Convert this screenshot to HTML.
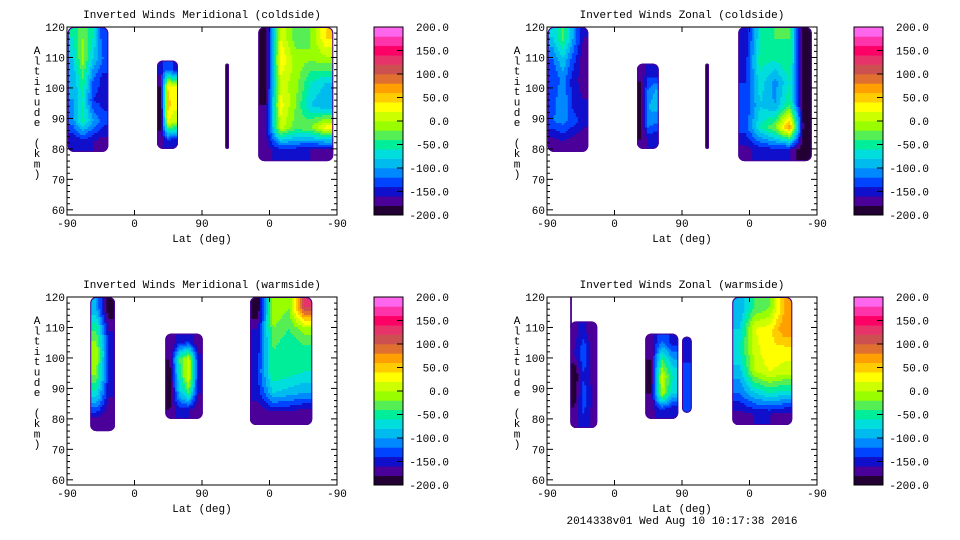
<!DOCTYPE html>
<html><head><meta charset="utf-8"><style>
body{margin:0;background:#fff;}
svg{display:block;font-family:"Liberation Mono","DejaVu Sans Mono",monospace;}
</style></head><body>
<svg id="c" width="960" height="540" xmlns="http://www.w3.org/2000/svg">
</svg>
<script>
// colour bands bottom (-200) to top (200), 20 bands
const bandColors=["#220033","#4a0099","#1010cc","#0044ff","#0088ff","#00bbee","#00dddd","#00ee99","#55ee55","#99ff00","#ccff00","#ffff00","#ffcc00","#ffa000","#e07030","#cc5050","#e6336a","#ff0066","#ff33aa","#ff66ee"];
const cbTicks=[-200,-150,-100,-50,0,50,100,150,200];
const xTickVals=[0,90,180,270,360];
const xTickLabels=["-90","0","90","0","-90"];
const yTickVals=[60,70,80,90,100,110,120];
const titles=["Inverted Winds Meridional (coldside)","Inverted Winds Zonal (coldside)","Inverted Winds Meridional (warmside)","Inverted Winds Zonal (warmside)"];
// regions: [u0,u1,alt0,alt1] and value grids (rows top->bottom)
const p1Bounds=[[1,55,79,120],[120,148,80,109],[211,216,80,108],[255,355,76,120]];
const p1Grids=[
[[-60,-20,-60,-140],[-80,-10,-80,-120],[-100,-40,-120,-150],[-100,-60,-140,-150],[-110,-50,-100,-130],[-160,-150,-160,-170]],
[[-150,-120,-150],[-180,40,20],[-190,50,30],[-190,20,0],[-170,-140,-150]],
[[-200]],
[[-200,20,-30,-20,40],[-200,40,-10,-20,-10],[-190,10,-10,-60,-80],[-180,30,-20,-80,-100],[-170,10,-30,-20,30],[-170,-150,-150,-160,-170]]];
const p2Bounds=[[1,55,79,120],[120,149,80,108],[211,216,80,108],[255,353,76,120]];
const p2Grids=[
[[-80,-30,-100,-160],[-120,-80,-130,-170],[-140,-110,-150,-170],[-130,-100,-150,-160],[-120,-110,-130,-150],[-170,-160,-170,-180]],
[[-170,-150,-160],[-190,-120,-100],[-190,-100,-90],[-190,-110,-120],[-180,-160,-160]],
[[-200]],
[[-160,-60,-40,-40,-200],[-150,-50,-60,-40,-200],[-140,-70,-110,-60,-200],[-140,-80,-100,-40,-200],[-130,-60,-20,80,-200],[-170,-150,-150,-160,-200]]];
const p3Bounds=[[31,64,76,120],[131,181,80,108],[244,327,78,120]];
const p3Grids=[
[[-100,-200],[-40,-160],[0,-140],[-20,-150],[-80,-160],[-170,-180]],
[[-180,-150,-140,-180],[-180,-40,10,-150],[-190,-60,20,-150],[-190,-90,-40,-160],[-180,-150,-160,-180]],
[[-200,0,-20,120],[-160,-20,-40,-10],[-150,-40,-60,-50],[-140,-40,-50,-60],[-150,-80,-90,-100],[-180,-170,-170,-180]]];
const p4Bounds=[[31,67,77,112],[131,175,80,108],[180,193,82,107],[247,327,78,120],[31,33,110,120]];
const p4Grids=[
[[-170,-150,-180],[-160,-120,-170],[-200,-140,-170],[-190,-130,-160],[-170,-140,-170]],
[[-170,-120,-150],[-180,-40,-100],[-190,10,-60],[-180,0,-80],[-170,-150,-160]],
[[-160],[-120],[-130]],
[[-100,-40,-20,60],[-80,20,30,80],[-60,10,40,30],[-90,0,20,10],[-120,-80,-60,-70],[-170,-160,-160,-170]],
[[-200]]];
const panels=[{x:67,y:27,b:p1Bounds,g:p1Grids},{x:547,y:27,b:p2Bounds,g:p2Grids},{x:67,y:297,b:p3Bounds,g:p3Grids},{x:547,y:297,b:p4Bounds,g:p4Grids}];
const W=270,H=188,AMIN=58.3,AMAX=120,STEP=2;
const NS="http://www.w3.org/2000/svg";
const svg=document.getElementById('c');
function mk(t,a,p){const e=document.createElementNS(NS,t);for(const k in a)e.setAttribute(k,a[k]);(p||svg).appendChild(e);return e;}
function col(v){let i=Math.floor((v+200)/20);i=Math.max(0,Math.min(19,i));return bandColors[i];}
function sample(grid,gx,gy){
  const nr=grid.length,nc=grid[0].length;
  gx=Math.max(0,Math.min(nc-1,gx));gy=Math.max(0,Math.min(nr-1,gy));
  const c0=Math.floor(gx),r0=Math.floor(gy),c1=Math.min(nc-1,c0+1),r1=Math.min(nr-1,r0+1),fx=gx-c0,fy=gy-r0;
  const a=grid[r0][c0]*(1-fx)+grid[r0][c1]*fx,b=grid[r1][c0]*(1-fx)+grid[r1][c1]*fx;
  return a*(1-fy)+b*fy;
}
panels.forEach((P,pi)=>{
  const xs=u=>P.x+u*W/360, ys=a=>P.y+(AMAX-a)/(AMAX-AMIN)*H;
  const g=mk('g',{});
  
  
  const t=mk('text',{x:P.x+W/2,y:P.y-9,'text-anchor':'middle','font-size':11},g);t.textContent=titles[pi];
  
  P.b.forEach((bd,ri)=>{
    const x0=xs(bd[0]),x1=xs(bd[1]),y0=ys(bd[3]),y1=ys(bd[2]);
    const cid='cp'+pi+'_'+ri;
    const cp=mk('clipPath',{id:cid},g);mk('rect',{x:x0,y:y0,width:x1-x0,height:y1-y0,rx:Math.min(6,(x1-x0)/2)},cp);
    const rg=mk('g',{'clip-path':'url(#'+cid+')'},g);
    
    mk('rect',{x:x0,y:y0,width:x1-x0,height:y1-y0,fill:'#220033'},rg);
    const grid=P.g[ri],nr=grid.length,nc=grid[0].length,cw=(x1-x0)/nc,ch=(y1-y0)/nr;
    for(let py=y0;py<y1;py+=STEP){
      const gy=(py+STEP/2-y0)/ch-0.5;
      let runStart=x0,runCol=null;
      for(let px=x0;px<=x1;px+=STEP){
        const c=px<x1?col(sample(grid,(px+STEP/2-x0)/cw-0.5,gy)):null;
        if(c!==runCol){
          if(runCol!==null){mk('rect',{x:runStart,y:py,width:px-runStart+0.4,height:STEP+0.4,fill:runCol},rg);}
          runStart=px;runCol=c;
        }
      }
      if(runCol!==null)mk('rect',{x:runStart,y:py,width:x1-runStart+0.4,height:STEP+0.4,fill:runCol},rg);
    }
    mk('rect',{x:x0,y:y0,width:x1-x0,height:y1-y0,rx:Math.min(6,(x1-x0)/2),fill:'none',stroke:'#4a0099','stroke-width':2},rg);
  });
  mk('rect',{x:P.x,y:P.y,width:W,height:H,fill:'none',stroke:'#000','stroke-width':1},g);
  xTickVals.forEach((u,i)=>{const x=xs(u);mk('line',{x1:x,x2:x,y1:P.y+H,y2:P.y+H-5,stroke:'#000'},g);mk('line',{x1:x,x2:x,y1:P.y,y2:P.y+5,stroke:'#000'},g);
    const l=mk('text',{x:x,y:P.y+H+12,'text-anchor':'middle','font-size':11},g);l.textContent=xTickLabels[i];
    });
  for(let a=60;a<=120;a+=2){const y=ys(a),len=a%10==0?6:3;mk('line',{x1:P.x,x2:P.x+len,y1:y,y2:y,stroke:'#000'},g);mk('line',{x1:P.x+W,x2:P.x+W-len,y1:y,y2:y,stroke:'#000'},g);}
  yTickVals.forEach(a=>{const l=mk('text',{x:P.x-2,y:ys(a)+4,'text-anchor':'end','font-size':11},g);l.textContent=a;
    });
  const xl=mk('text',{x:P.x+W/2,y:P.y+H+27,'text-anchor':'middle','font-size':11},g);xl.textContent='Lat (deg)';
  
  const yl=mk('text',{x:P.x-30,'text-anchor':'middle','font-size':11},g);
  
  'Altitude (km)'.split('').forEach((ch,i)=>{const ts=mk('tspan',{x:P.x-30,y:P.y+27+i*10.3},yl);ts.textContent=ch;});
  // colorbar
  const cx=P.x+307,cwid=29;
  const cb=mk('g',{},g);
  const cy=v=>P.y+H-(v+200)/400*H;
  bandColors.forEach((c,i)=>mk('rect',{x:cx,y:cy(-200+(i+1)*20),width:cwid,height:H/20+0.3,fill:c},cb));
  mk('rect',{x:cx,y:P.y,width:cwid,height:H,fill:'none',stroke:'#000'},cb);
  cbTicks.forEach(v=>{mk('line',{x1:cx+cwid-6,x2:cx+cwid,y1:cy(v),y2:cy(v),stroke:'#000'},cb);
    const l=mk('text',{x:cx+75,y:cy(v)+4,'text-anchor':'end','font-size':11},cb);l.textContent=v.toFixed(1);
    });
});
const f=mk('text',{x:682,y:524,'text-anchor':'middle','font-size':11});f.textContent='2014338v01 Wed Aug 10 10:17:38 2016';

</script>
</body></html>
